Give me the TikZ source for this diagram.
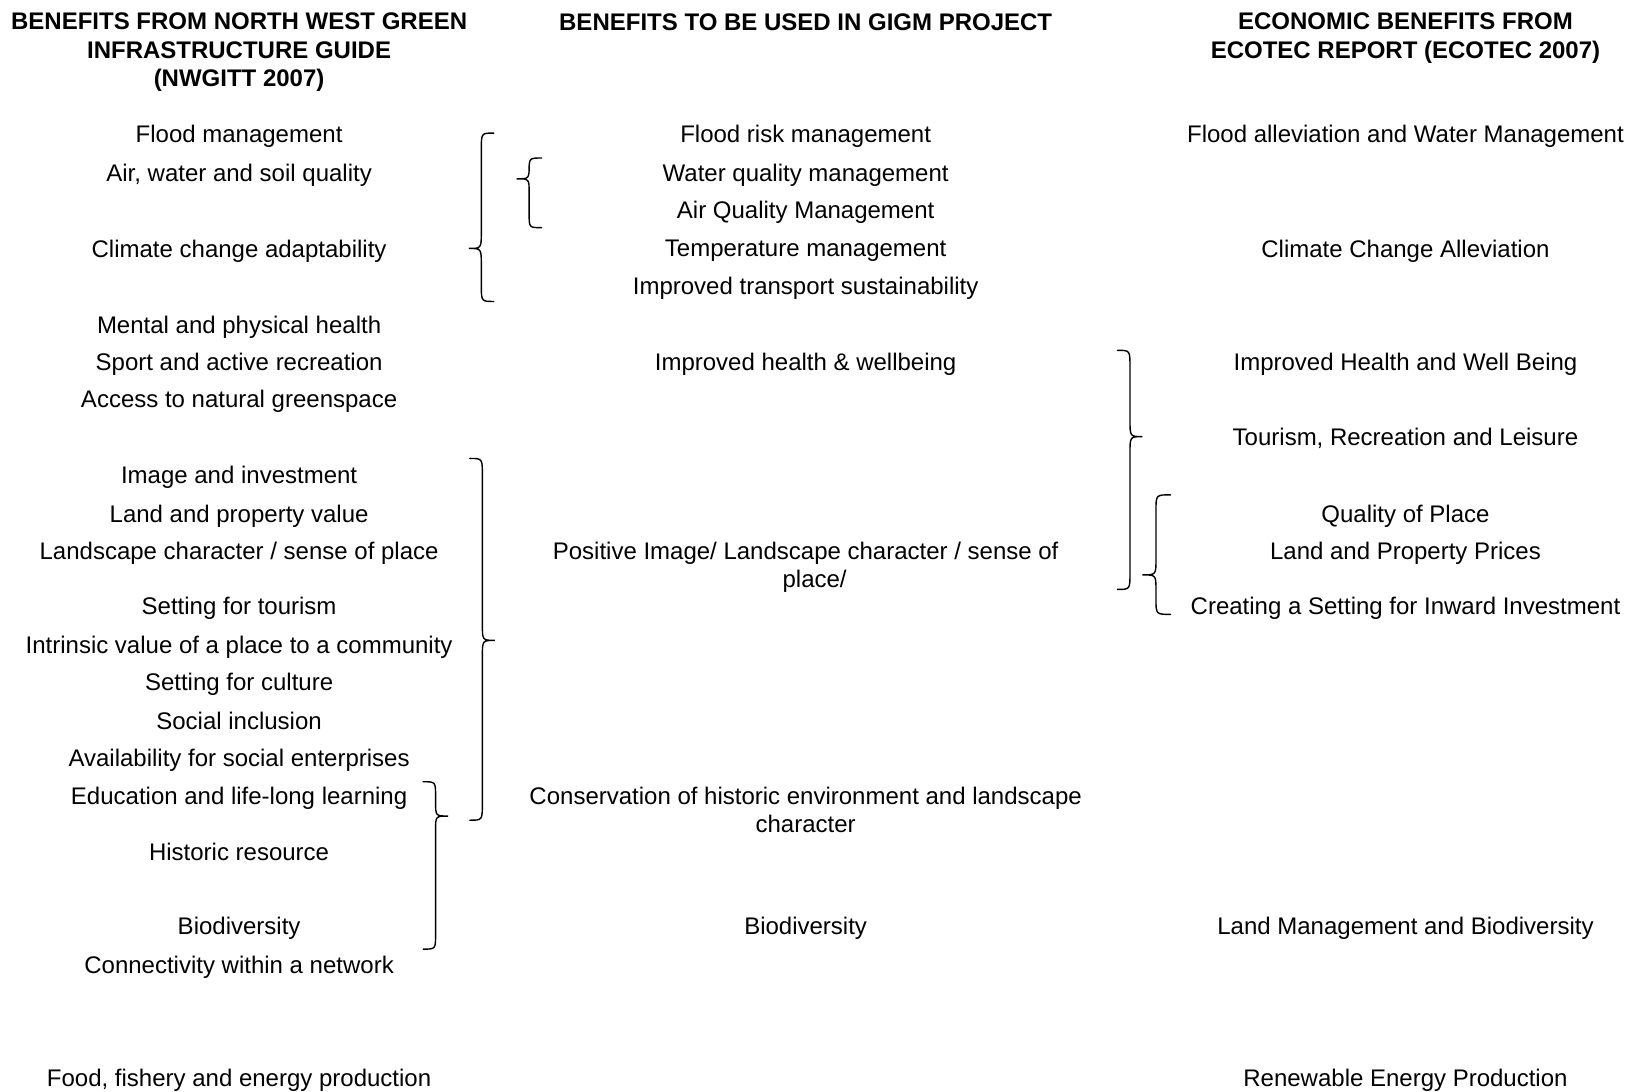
\documentclass[tikz,border=0pt]{standalone}
\usepackage{fontspec}
\setmainfont{Liberation Sans}
\newcommand\curlyb[7]{% #1 end x, #2 line x, #3 tip x, #4 top y, #5 tip y, #6 bottom y, #7 r
  \draw[bracestyle] (#1,#4) .. controls (#2,#4) .. (#2,#4+#7) -- (#2,#5-#7)
    .. controls (#2,#5) .. (#3,#5) .. controls (#2,#5) .. (#2,#5+#7)
    -- (#2,#6-#7) .. controls (#2,#6) .. (#1,#6);}
\begin{document}
\begin{tikzpicture}[x=1.0395pt,y=-1.0395pt,
  lbl/.style={font=\fontsize{24}{28}\selectfont, inner sep=0pt, align=center, text depth=0pt},
  hdr/.style={lbl, font=\fontsize{24}{28.6}\selectfont\bfseries},
  bracestyle/.style={line width=1.4pt, line cap=round}]
\useasboundingbox[fill=white] (0,0) rectangle (1568,1050);
% headers
\node[hdr] (h1) at (230,48) {BENEFITS FROM NORTH WEST GREEN\\INFRASTRUCTURE GUIDE\\(NWGITT 2007)};
\node[hdr] (h2) at (775,21) {BENEFITS TO BE USED IN GIGM PROJECT};
\node[hdr] (h3) at (1352,34.5) {ECONOMIC BENEFITS FROM\\ECOTEC REPORT (ECOTEC 2007)};
% left column
\node[lbl] (l1) at (230,129) {Flood management};
\node[lbl] (l2) at (230,166) {Air, water and soil quality};
\node[lbl] (l3) at (230,239) {Climate change adaptability};
\node[lbl] (l4) at (230,312) {Mental and physical health};
\node[lbl] (l5) at (230,348) {Sport and active recreation};
\node[lbl] (l6) at (230,384) {Access to natural greenspace};
\node[lbl] (l7) at (230,457) {Image and investment};
\node[lbl] (l8) at (230,494) {Land and property value};
\node[lbl] (l9) at (230,530) {Landscape character / sense of place};
\node[lbl] (l10) at (230,583) {Setting for tourism};
\node[lbl] (l11) at (230,620) {Intrinsic value of a place to a community};
\node[lbl] (l12) at (230,656) {Setting for culture};
\node[lbl] (l13) at (230,693) {Social inclusion};
\node[lbl] (l14) at (230,729) {Availability for social enterprises};
\node[lbl] (l15) at (230,766) {Education and life-long learning};
\node[lbl] (l16) at (230,819) {Historic resource};
\node[lbl] (l17) at (230,891) {Biodiversity};
\node[lbl] (l18) at (230,928) {Connectivity within a network};
\node[lbl] (l19) at (230,1037) {Food, fishery and energy production};
% middle column
\node[lbl] (m1) at (775,129) {Flood risk management};
\node[lbl] (m2) at (775,166) {Water quality management};
\node[lbl] (m3) at (775,202) {Air Quality Management};
\node[lbl] (m4) at (775,239) {Temperature management};
\node[lbl] (m5) at (775,275) {Improved transport sustainability};
\node[lbl] (m6) at (775,348) {Improved health \& wellbeing};
\node[lbl] (m7) at (775,543) {Positive Image/ Landscape character / sense of\\\hspace*{18pt}place/};
\node[lbl] (m8) at (775,779) {Conservation of historic environment and landscape\\character};
\node[lbl] (m9) at (775,891) {Biodiversity};
% right column
\node[lbl] (r1) at (1352,129) {Flood alleviation and Water Management};
\node[lbl] (r2) at (1352,239) {Climate Change Alleviation};
\node[lbl] (r3) at (1352,348) {Improved Health and Well Being};
\node[lbl] (r4) at (1352,420) {Tourism, Recreation and Leisure};
\node[lbl] (r5) at (1352,494) {Quality of Place};
\node[lbl] (r6) at (1352,530) {Land and Property Prices};
\node[lbl] (r7) at (1352,583) {Creating a Setting for Inward Investment};
\node[lbl] (r8) at (1352,891) {Land Management and Biodiversity};
\node[lbl] (r9) at (1352,1037) {Renewable Energy Production};
% braces
\curlyb{475}{463}{451}{128}{239}{290}{16}
\curlyb{521}{509}{497}{152}{172}{219}{13}
\curlyb{452}{464}{476}{441}{616}{789}{16}
\curlyb{407}{419}{431}{752}{785}{913}{14}
\curlyb{1075}{1087}{1099}{337}{420}{567}{16}
\curlyb{1126}{1112}{1099}{476}{553}{591}{15}
\end{tikzpicture}
\end{document}
